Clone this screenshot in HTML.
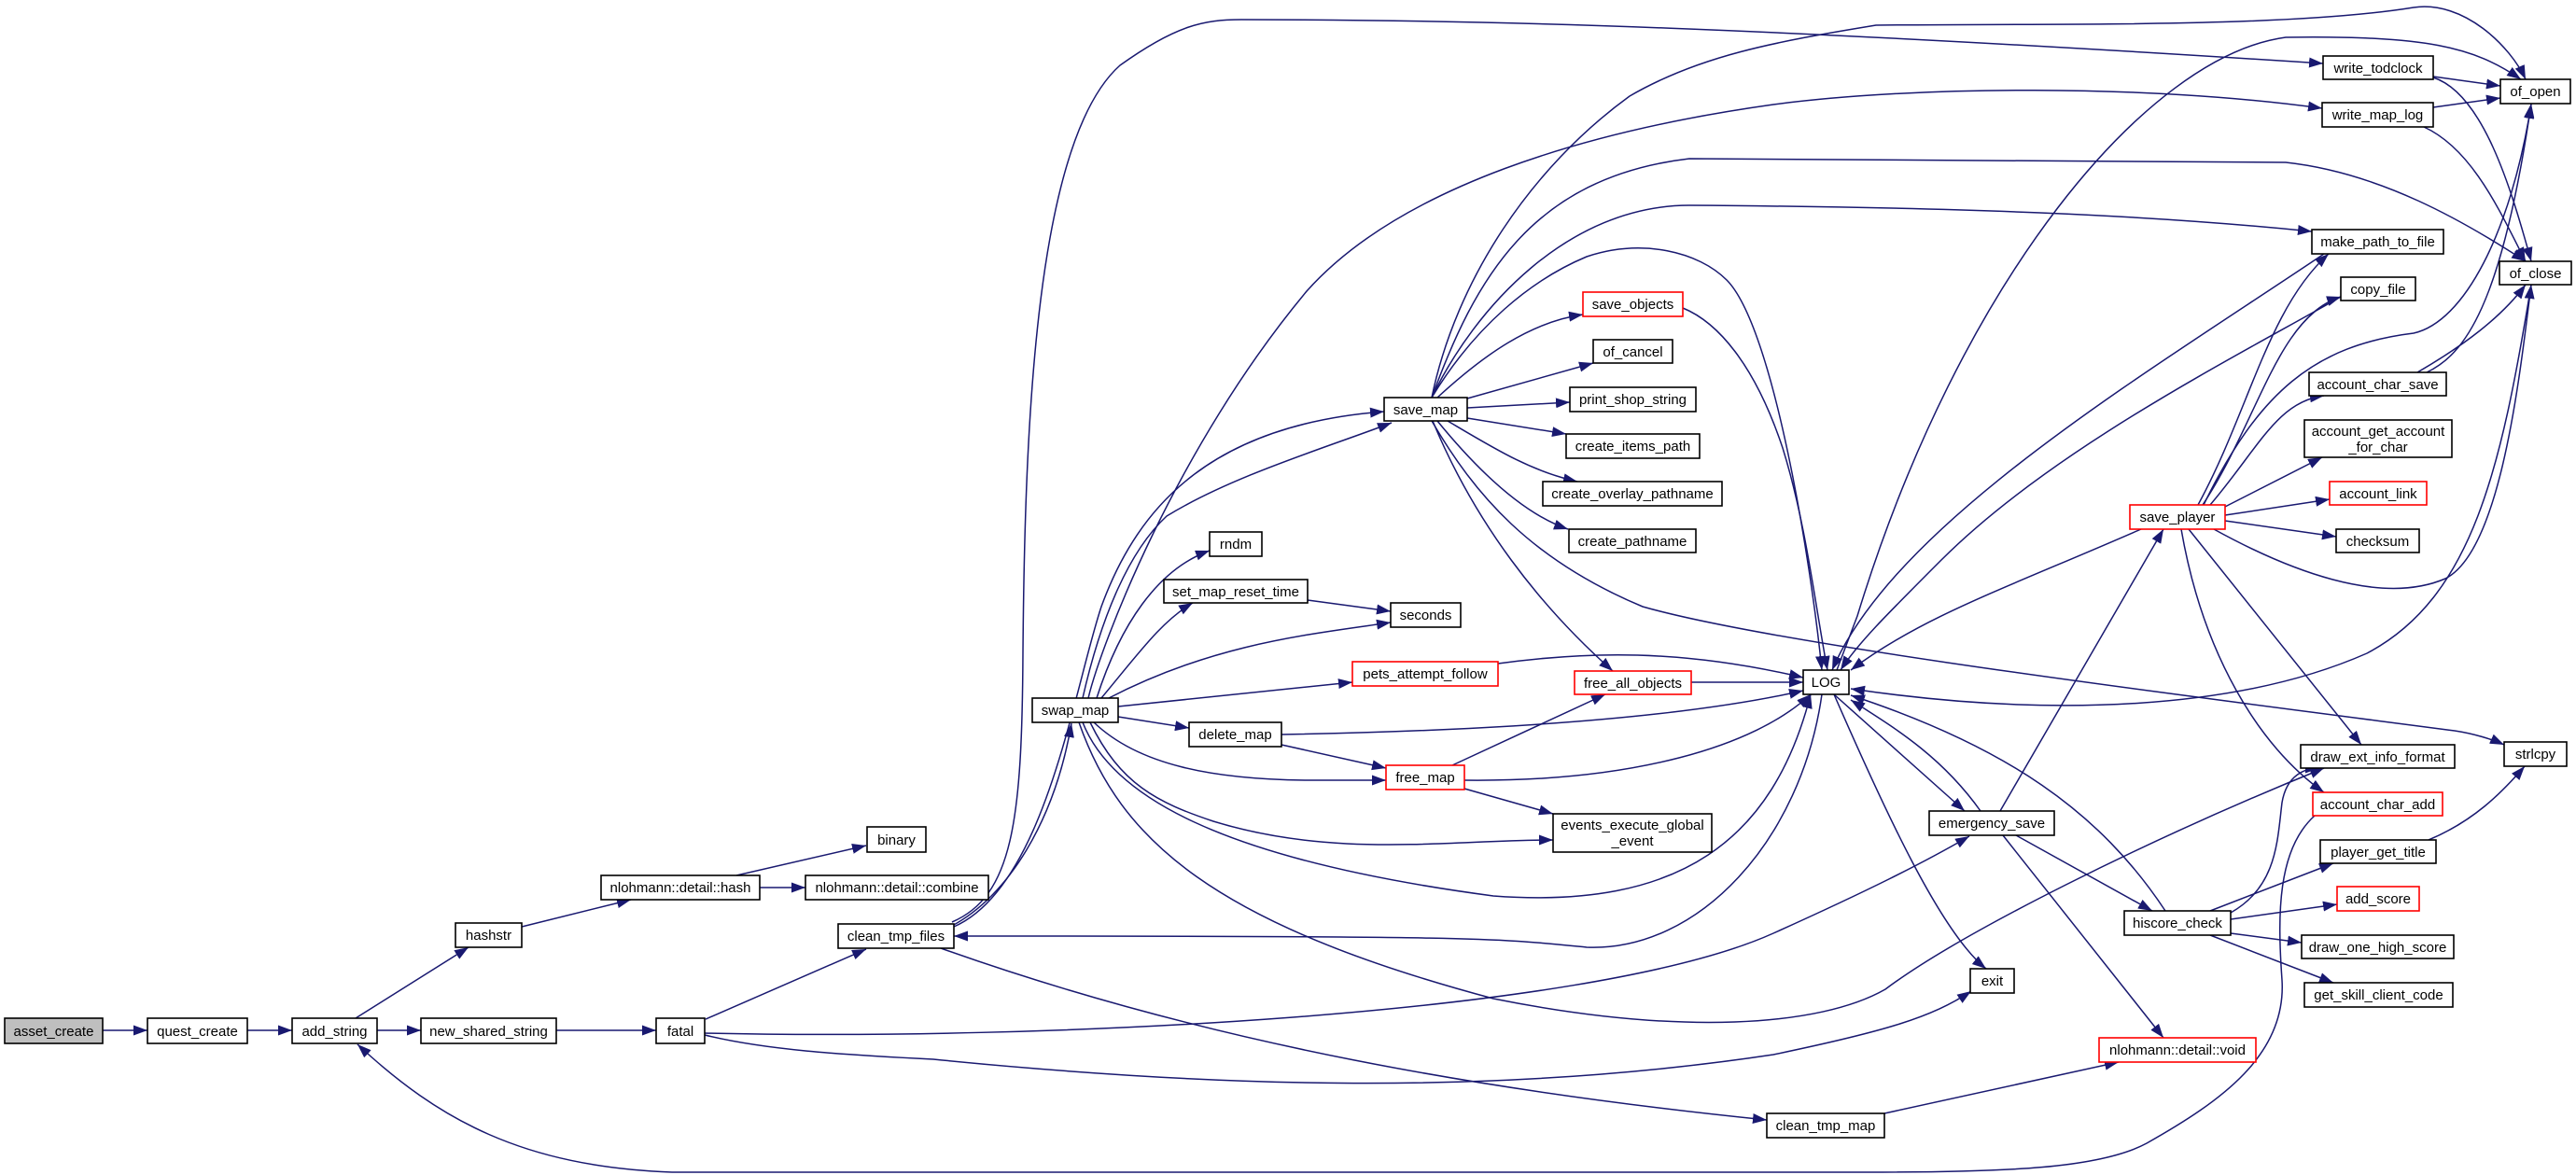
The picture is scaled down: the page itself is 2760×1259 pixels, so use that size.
<!DOCTYPE html>
<html><head><meta charset="utf-8">
<style>
html,body{margin:0;padding:0;background:#fff;}
svg{display:block;}
text{font-family:"Liberation Sans",sans-serif;font-size:15px;fill:#000;}
.e{fill:none;stroke:#191970;stroke-width:1.5;marker-end:url(#a);}
.n{fill:#fff;stroke:#000;stroke-width:1.6;}
.r{fill:#fff;stroke:#ff0000;stroke-width:1.6;}
</style></head><body>
<svg width="2760" height="1259" viewBox="0 0 2760 1259" xmlns="http://www.w3.org/2000/svg">
<defs><marker id="a" markerUnits="userSpaceOnUse" markerWidth="16" markerHeight="12" refX="15" refY="5.5" orient="auto"><path d="M0,0 L15,5.5 L0,11 z" fill="#191970"/></marker></defs>
<g>
<path class="e" d="M110,1104 L158,1104"/>
<path class="e" d="M265,1104 L313,1104"/>
<path class="e" d="M381,1091 L502,1015"/>
<path class="e" d="M404,1104 L451,1104"/>
<path class="e" d="M559,993 L676,964"/>
<path class="e" d="M789,938 L928,906"/>
<path class="e" d="M814,951 L863,951"/>
<path class="e" d="M596,1104 L703,1104"/>
<path class="e" d="M756,1092 L928,1017"/>
<path class="e" d="M755,1107 C1100,1115 1700,1090 1900,1000 C2000,955 2060,925 2110,896"/>
<path class="e" d="M755,1109 C820,1125 900,1130 1000,1135 C1300,1165 1600,1175 1900,1130 C2020,1105 2070,1090 2112,1062"/>
<path class="e" d="M2480,874 C2440,910 2440,980 2445,1050 C2450,1130 2380,1180 2300,1225 C2250,1252 2150,1256 2000,1256 L720,1256 C560,1250 470,1200 383,1119"/>
<path class="e" d="M1020,992 C1080,960 1130,880 1148,775"/>
<path class="e" d="M1022,993 C1120,950 1150,740 1180,650 C1220,540 1300,455 1483,441"/>
<path class="e" d="M1160,748 C1180,660 1210,590 1250,553 C1320,510 1420,480 1491,453"/>
<path class="e" d="M1020,988 C1085,960 1095,880 1096,700 C1098,450 1110,150 1200,70 C1260,27 1290,21 1330,21 C1600,21 1900,30 2489,68"/>
<path class="e" d="M1166,748 C1180,690 1260,480 1400,312 C1500,200 1700,140 1900,112 C2050,92 2300,90 2488,116"/>
<path class="e" d="M1534,426 C1560,300 1640,180 1746,103 C1820,60 1900,45 2010,27 C2200,25 2450,30 2586,8 C2640,0 2690,50 2706,85"/>
<path class="e" d="M1534,426 C1580,300 1640,190 1810,170 L2449,174 C2550,185 2640,237 2706,280"/>
<path class="e" d="M1534,426 C1580,330 1680,220 1810,220 C2100,222 2300,230 2477,248"/>
<path class="e" d="M1534,426 C1580,350 1640,300 1700,275 C1760,255 1820,270 1850,300 C1900,350 1940,600 1952,718"/>
<path class="e" d="M1540,426 C1590,380 1640,345 1696,337"/>
<path class="e" d="M1572,427 L1707,389"/>
<path class="e" d="M1572,437 L1682,431"/>
<path class="e" d="M1572,448 L1678,465"/>
<path class="e" d="M1551,451 C1600,480 1640,505 1690,516"/>
<path class="e" d="M1540,451 C1580,500 1630,550 1680,567"/>
<path class="e" d="M1803,330 C1840,345 1880,390 1910,480 C1935,560 1945,650 1958,718"/>
<path class="e" d="M1535,451 C1580,560 1650,650 1728,719"/>
<path class="e" d="M1534,451 C1580,530 1640,600 1760,650 C1900,690 2300,740 2630,783 C2650,786 2670,792 2683,798"/>
<path class="e" d="M1175,748 C1200,670 1240,610 1296,590"/>
<path class="e" d="M1180,748 C1220,700 1245,665 1278,646"/>
<path class="e" d="M1401,643 L1490,655"/>
<path class="e" d="M1188,748 C1300,690 1400,680 1490,667"/>
<path class="e" d="M1198,757 L1449,731"/>
<path class="e" d="M1198,768 L1274,780"/>
<path class="e" d="M1373,798 L1485,823"/>
<path class="e" d="M1172,774 C1220,820 1300,835 1400,836 L1485,836"/>
<path class="e" d="M1373,787 C1600,783 1800,770 1932,740"/>
<path class="e" d="M1556,820 L1720,744"/>
<path class="e" d="M1569,836 C1750,838 1880,800 1940,744"/>
<path class="e" d="M1569,845 L1664,872"/>
<path class="e" d="M1168,774 C1200,840 1240,860 1300,880 C1430,920 1550,900 1664,900"/>
<path class="e" d="M1605,711 C1700,698 1800,695 1932,726"/>
<path class="e" d="M1812,731 L1932,731"/>
<path class="e" d="M1160,774 C1190,850 1300,920 1600,960 C1800,975 1900,900 1940,744"/>
<path class="e" d="M1952,744 C1930,900 1820,1020 1700,1015 C1600,1005 1600,1003 1022,1003"/>
<path class="e" d="M1156,774 C1200,900 1300,990 1600,1070 C1800,1110 1950,1100 2020,1060 C2100,1000 2300,900 2490,823"/>
<path class="e" d="M1008,1016 C1300,1120 1600,1170 1893,1200"/>
<path class="e" d="M2019,1193 L2270,1138"/>
<path class="e" d="M1965,744 L2105,869"/>
<path class="e" d="M2122,869 C2080,810 2030,780 1983,750"/>
<path class="e" d="M2320,976 C2250,870 2150,800 1983,745"/>
<path class="e" d="M1965,744 C2020,870 2080,1000 2128,1038"/>
<path class="e" d="M2712,305 C2680,500 2650,640 2536,700 C2400,760 2200,770 1983,738"/>
<path class="e" d="M2294,567 C2150,630 2060,660 1983,718"/>
<path class="e" d="M2490,272 C2300,400 2030,560 1963,718"/>
<path class="e" d="M2508,318 C2400,380 2200,480 2080,600 C2020,660 1990,690 1972,718"/>
<path class="e" d="M1968,718 L1990,660 C2100,300 2300,60 2449,40 C2600,38 2650,50 2701,85"/>
<path class="e" d="M2143,869 L2318,567"/>
<path class="e" d="M2160,895 L2306,976"/>
<path class="e" d="M2146,895 L2318,1112"/>
<path class="e" d="M2390,978 C2440,950 2440,900 2445,860 C2450,830 2470,823 2485,823"/>
<path class="e" d="M2368,976 L2500,925"/>
<path class="e" d="M2390,985 L2504,969"/>
<path class="e" d="M2390,1000 L2466,1010"/>
<path class="e" d="M2368,1002 L2500,1053"/>
<path class="e" d="M2602,900 C2650,880 2680,850 2705,821"/>
<path class="e" d="M2600,399 C2640,380 2680,330 2712,111"/>
<path class="e" d="M2590,399 C2640,370 2680,340 2706,305"/>
<path class="e" d="M2607,82 L2679,92"/>
<path class="e" d="M2607,83 C2660,100 2690,200 2712,280"/>
<path class="e" d="M2607,115 L2679,105"/>
<path class="e" d="M2597,136 C2650,160 2680,230 2706,280"/>
<path class="e" d="M2361,541 C2420,420 2480,370 2586,357 C2640,345 2690,250 2712,112"/>
<path class="e" d="M2355,541 C2410,440 2430,330 2495,272"/>
<path class="e" d="M2360,541 C2420,450 2440,340 2508,318"/>
<path class="e" d="M2368,541 C2420,480 2440,430 2490,424"/>
<path class="e" d="M2380,545 L2488,490"/>
<path class="e" d="M2384,552 L2496,535"/>
<path class="e" d="M2384,558 L2503,575"/>
<path class="e" d="M2372,567 C2450,610 2550,650 2620,620 C2680,590 2700,400 2712,305"/>
<path class="e" d="M2345,567 L2530,798"/>
<path class="e" d="M2337,567 C2360,700 2420,800 2490,849"/>
</g>
<g>
<rect x="5" y="1091" width="105" height="27" fill="#bfbfbf" stroke="#000" stroke-width="1.6"/><text x="57.5" y="1110" text-anchor="middle">asset_create</text>
<rect class="n" x="158" y="1091" width="107" height="27"/><text x="211.5" y="1110" text-anchor="middle">quest_create</text>
<rect class="n" x="313" y="1091" width="91" height="27"/><text x="358.5" y="1110" text-anchor="middle">add_string</text>
<rect class="n" x="451" y="1091" width="145" height="27"/><text x="523.5" y="1110" text-anchor="middle">new_shared_string</text>
<rect class="n" x="703" y="1091" width="52" height="27"/><text x="729" y="1110" text-anchor="middle">fatal</text>
<rect class="n" x="488" y="989" width="71" height="26"/><text x="523.5" y="1007" text-anchor="middle">hashstr</text>
<rect class="n" x="644" y="938" width="170" height="26"/><text x="729" y="956" text-anchor="middle">nlohmann::detail::hash</text>
<rect class="n" x="929" y="886" width="63" height="27"/><text x="960.5" y="905" text-anchor="middle">binary</text>
<rect class="n" x="863" y="938" width="196" height="26"/><text x="961" y="956" text-anchor="middle">nlohmann::detail::combine</text>
<rect class="n" x="898" y="990" width="124" height="26"/><text x="960" y="1008" text-anchor="middle">clean_tmp_files</text>
<rect class="n" x="1106" y="748" width="92" height="26"/><text x="1152" y="766" text-anchor="middle">swap_map</text>
<rect class="n" x="1296" y="570" width="56" height="26"/><text x="1324" y="588" text-anchor="middle">rndm</text>
<rect class="n" x="1247" y="621" width="154" height="25"/><text x="1324" y="639" text-anchor="middle">set_map_reset_time</text>
<rect class="n" x="1490" y="646" width="75" height="26"/><text x="1527.5" y="664" text-anchor="middle">seconds</text>
<rect class="n" x="1483" y="426" width="89" height="25"/><text x="1527.5" y="444" text-anchor="middle">save_map</text>
<rect class="r" x="1696" y="313" width="107" height="26"/><text x="1749.5" y="331" text-anchor="middle">save_objects</text>
<rect class="n" x="1707" y="364" width="85" height="25"/><text x="1749.5" y="382" text-anchor="middle">of_cancel</text>
<rect class="n" x="1682" y="415" width="135" height="26"/><text x="1749.5" y="433" text-anchor="middle">print_shop_string</text>
<rect class="n" x="1678" y="465" width="143" height="26"/><text x="1749.5" y="483" text-anchor="middle">create_items_path</text>
<rect class="n" x="1653" y="516" width="192" height="26"/><text x="1749" y="534" text-anchor="middle">create_overlay_pathname</text>
<rect class="n" x="1681" y="567" width="136" height="25"/><text x="1749" y="585" text-anchor="middle">create_pathname</text>
<rect class="r" x="1449" y="709" width="156" height="26"/><text x="1527" y="727" text-anchor="middle">pets_attempt_follow</text>
<rect class="r" x="1687" y="719" width="125" height="25"/><text x="1749.5" y="737" text-anchor="middle">free_all_objects</text>
<rect class="n" x="1932" y="718" width="49" height="26"/><text x="1956.5" y="736" text-anchor="middle">LOG</text>
<rect class="n" x="1274" y="774" width="99" height="26"/><text x="1323.5" y="792" text-anchor="middle">delete_map</text>
<rect class="r" x="1485" y="820" width="84" height="26"/><text x="1527" y="838" text-anchor="middle">free_map</text>
<rect class="n" x="1664" y="872" width="170" height="41"/><text x="1749" y="889" text-anchor="middle">events_execute_global</text><text x="1749" y="906" text-anchor="middle">_event</text>
<rect class="n" x="2067" y="869" width="134" height="26"/><text x="2134" y="887" text-anchor="middle">emergency_save</text>
<rect class="n" x="2111" y="1038" width="47" height="26"/><text x="2134.5" y="1056" text-anchor="middle">exit</text>
<rect class="r" x="2249" y="1112" width="168" height="26"/><text x="2333" y="1130" text-anchor="middle">nlohmann::detail::void</text>
<rect class="n" x="1893" y="1193" width="126" height="26"/><text x="1956" y="1211" text-anchor="middle">clean_tmp_map</text>
<rect class="n" x="2276" y="976" width="114" height="26"/><text x="2333" y="994" text-anchor="middle">hiscore_check</text>
<rect class="n" x="2465" y="798" width="165" height="25"/><text x="2547.5" y="816" text-anchor="middle">draw_ext_info_format</text>
<rect class="r" x="2478" y="849" width="139" height="25"/><text x="2547.5" y="867" text-anchor="middle">account_char_add</text>
<rect class="n" x="2486" y="900" width="124" height="25"/><text x="2548" y="918" text-anchor="middle">player_get_title</text>
<rect class="r" x="2504" y="950" width="88" height="26"/><text x="2548" y="968" text-anchor="middle">add_score</text>
<rect class="n" x="2466" y="1002" width="163" height="25"/><text x="2547.5" y="1020" text-anchor="middle">draw_one_high_score</text>
<rect class="n" x="2469" y="1053" width="159" height="26"/><text x="2548.5" y="1071" text-anchor="middle">get_skill_client_code</text>
<rect class="n" x="2683" y="795" width="67" height="26"/><text x="2716.5" y="813" text-anchor="middle">strlcpy</text>
<rect class="r" x="2282" y="541" width="102" height="26"/><text x="2333" y="559" text-anchor="middle">save_player</text>
<rect class="n" x="2489" y="60" width="118" height="25"/><text x="2548" y="78" text-anchor="middle">write_todclock</text>
<rect class="n" x="2488" y="110" width="119" height="26"/><text x="2547.5" y="128" text-anchor="middle">write_map_log</text>
<rect class="n" x="2679" y="85" width="75" height="26"/><text x="2716.5" y="103" text-anchor="middle">of_open</text>
<rect class="n" x="2678" y="280" width="77" height="25"/><text x="2716.5" y="298" text-anchor="middle">of_close</text>
<rect class="n" x="2477" y="246" width="141" height="26"/><text x="2547.5" y="264" text-anchor="middle">make_path_to_file</text>
<rect class="n" x="2508" y="297" width="80" height="25"/><text x="2548" y="315" text-anchor="middle">copy_file</text>
<rect class="n" x="2474" y="399" width="147" height="25"/><text x="2547.5" y="417" text-anchor="middle">account_char_save</text>
<rect class="n" x="2469" y="450" width="158" height="40"/><text x="2548" y="467" text-anchor="middle">account_get_account</text><text x="2548" y="484" text-anchor="middle">_for_char</text>
<rect class="r" x="2496" y="516" width="104" height="25"/><text x="2548" y="534" text-anchor="middle">account_link</text>
<rect class="n" x="2503" y="567" width="89" height="25"/><text x="2547.5" y="585" text-anchor="middle">checksum</text>
</g>
</svg>
</body></html>
